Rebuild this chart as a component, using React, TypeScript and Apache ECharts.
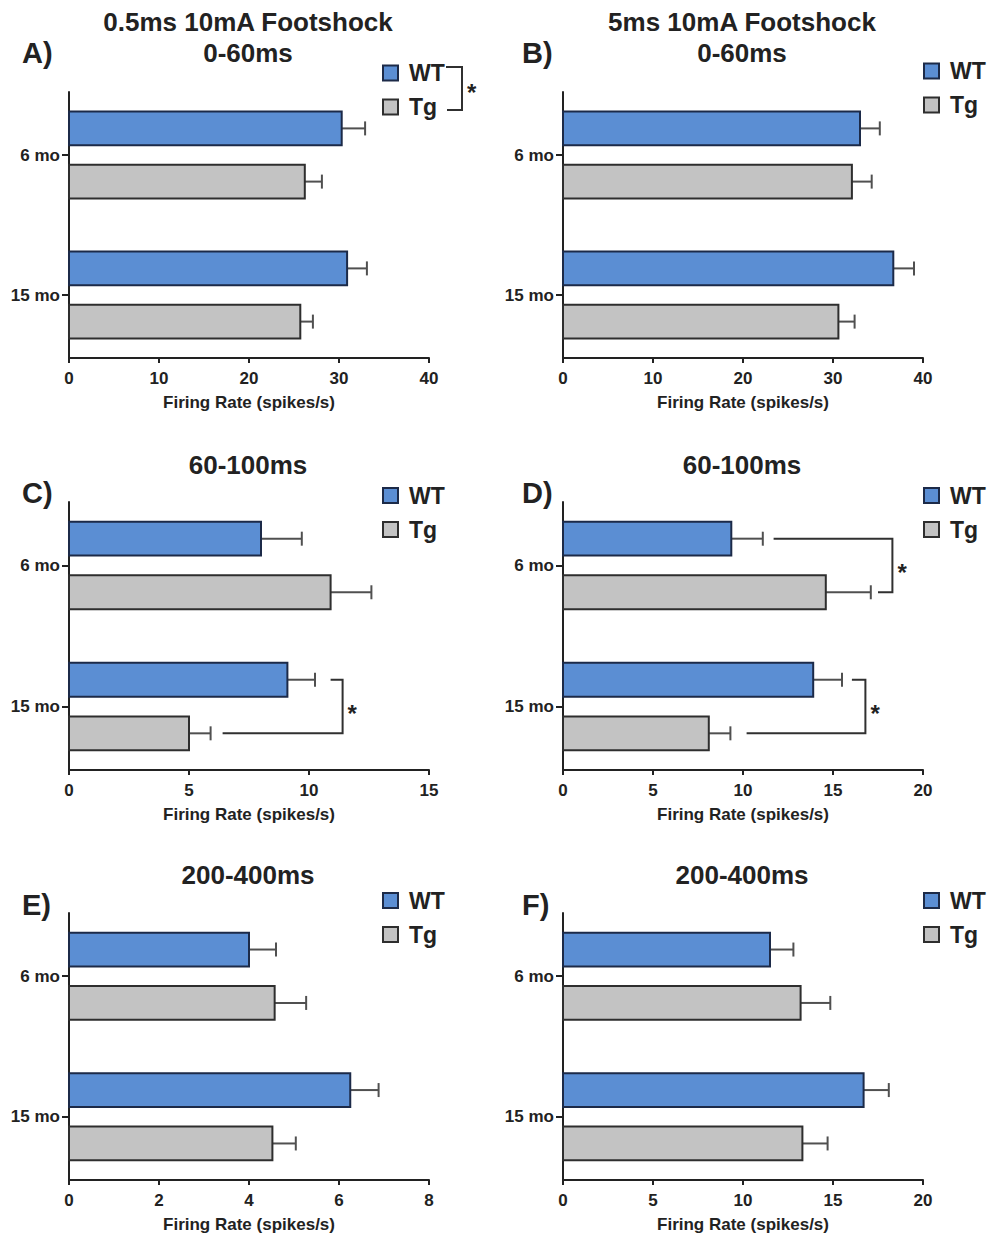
import React, { useEffect, useRef } from 'react';
import * as echarts from 'echarts';

// ---------- data ----------
const categories = ['6 mo', '15 mo'];
const seriesNames = ['WT', 'Tg'];
const panelLetters = ['A)', 'B)', 'C)', 'D)', 'E)', 'F)'];
const panelTitles = [
  ['0.5ms 10mA Footshock', '0-60ms'],
  ['5ms 10mA Footshock', '0-60ms'],
  ['60-100ms'],
  ['60-100ms'],
  ['200-400ms'],
  ['200-400ms'],
];
const axisTitle = 'Firing Rate (spikes/s)';
const xMax = [40, 40, 15, 20, 8, 20];
const xInterval = [10, 10, 5, 5, 2, 5];
// per panel: [6 mo, 15 mo]
const wtMean = [[30.3, 30.9], [33.0, 36.7], [8.0, 9.1], [9.35, 13.9], [4.0, 6.25], [11.5, 16.7]];
const wtSem = [[2.6, 2.2], [2.2, 2.3], [1.7, 1.15], [1.75, 1.6], [0.6, 0.63], [1.3, 1.4]];
const tgMean = [[26.2, 25.7], [32.1, 30.6], [10.9, 5.0], [14.6, 8.1], [4.57, 4.52], [13.2, 13.3]];
const tgSem = [[1.9, 1.4], [2.2, 1.8], [1.7, 0.9], [2.5, 1.2], [0.7, 0.52], [1.65, 1.4]];
// significance brackets (WT vs Tg within a category)
const sigPanel = [2, 3, 3];
const sigCategory = [1, 0, 1];
const sigTopStart = [10.9, 11.7, 16.05];
const sigBottomStart = [6.4, 17.5, 10.2];
const sigRight = [11.4, 18.3, 16.8];
const sigLabel = '*';

// ---------- style / layout ----------
const FONT = 'Liberation Sans, Arial, Helvetica, sans-serif';
const INK = '#222222';
const BLUE = '#5b8ed3';
const BLUE_EDGE = '#1c2a48';
const GRAY = '#c3c3c3';
const GRAY_EDGE = '#2e2e2e';
const ERR_COLOR = '#505050';
const BAR_OFFSET = 0.19;
const BAR_HALF = 0.12;
const CAP = 7;

const colLeft = [69, 563];
const rowTop = [92, 502, 913];
const rowBottom = [358, 770, 1180];
const titleX = [248, 742];
const letterX = [22, 522];
const titleY = [[22, 53], [465], [875]];
const letterY = [53, 493, 905];
const legendLeft = [382, 923];
const legendTop = [[61.5, 59.5], [484, 484], [889, 889]];

function barRender(offset: number, fill: string, stroke: string) {
  return (params: any, api: any) => {
    const cat = api.value(0);
    const mean = api.value(1);
    const sem = api.value(2);
    const yc = cat + offset;
    const a = api.coord([0, yc - BAR_HALF]);
    const b = api.coord([mean, yc + BAR_HALF]);
    const m = api.coord([mean, yc]);
    const e = api.coord([mean + sem, yc]);
    return {
      type: 'group',
      children: [
        {
          type: 'line',
          shape: { x1: m[0], y1: m[1], x2: e[0], y2: e[1] },
          style: { stroke: ERR_COLOR, lineWidth: 2 },
        },
        {
          type: 'line',
          shape: { x1: e[0], y1: e[1] - CAP, x2: e[0], y2: e[1] + CAP },
          style: { stroke: ERR_COLOR, lineWidth: 2 },
        },
        {
          type: 'rect',
          shape: {
            x: Math.min(a[0], b[0]),
            y: Math.min(a[1], b[1]),
            width: Math.abs(b[0] - a[0]),
            height: Math.abs(b[1] - a[1]),
          },
          style: { fill, stroke, lineWidth: 2 },
        },
      ],
    };
  };
}

function sigRender(params: any, api: any) {
  const topStart = api.value(0);
  const botStart = api.value(1);
  const right = api.value(2);
  const cat = api.value(3);
  const yTop = cat - BAR_OFFSET;
  const yBot = cat + BAR_OFFSET;
  const p1 = api.coord([topStart, yTop]);
  const p2 = api.coord([right, yTop]);
  const p3 = api.coord([right, yBot]);
  const p4 = api.coord([botStart, yBot]);
  return {
    type: 'group',
    children: [
      {
        type: 'polyline',
        shape: { points: [p1, p2, p3, p4] },
        style: { stroke: '#303030', lineWidth: 2, fill: 'none' },
      },
      {
        type: 'text',
        x: p2[0] + 5,
        y: (p2[1] + p3[1]) / 2 + 7,
        style: {
          text: sigLabel,
          fill: INK,
          fontSize: 24,
          fontWeight: 'bold',
          fontFamily: FONT,
          align: 'left',
          verticalAlign: 'middle',
        },
      },
    ],
  };
}

export default function App() {
  const ref = useRef<HTMLDivElement>(null);

  useEffect(() => {
    if (!ref.current) return;
    const chart = echarts.init(ref.current, undefined, { renderer: 'svg' });

    const grids: any[] = [];
    const xAxes: any[] = [];
    const yAxes: any[] = [];
    const series: any[] = [];
    const legends: any[] = [];
    const graphics: any[] = [];

    for (let p = 0; p < 6; p++) {
      const col = p % 2;
      const row = Math.floor(p / 2);
      grids.push({
        left: colLeft[col],
        top: rowTop[row],
        width: 360,
        height: rowBottom[row] - rowTop[row],
        containLabel: false,
      });
      xAxes.push({
        type: 'value',
        gridIndex: p,
        min: 0,
        max: xMax[p],
        interval: xInterval[p],
        splitLine: { show: false },
        axisLine: { show: true, onZero: false, lineStyle: { color: INK, width: 2 } },
        axisTick: { show: true, length: 5, lineStyle: { color: INK, width: 2 } },
        axisLabel: { color: INK, fontSize: 17, fontWeight: 'bold', fontFamily: FONT, margin: 12 },
        name: axisTitle,
        nameLocation: 'middle',
        nameGap: 36,
        nameTextStyle: { color: INK, fontSize: 17, fontWeight: 'bold', fontFamily: FONT },
      });
      yAxes.push({
        type: 'value',
        gridIndex: p,
        inverse: true,
        min: -0.45,
        max: 1.45,
        splitLine: { show: false },
        axisLine: { show: true, onZero: false, lineStyle: { color: INK, width: 2 } },
        axisTick: { show: true, length: 7, customValues: [0, 1], lineStyle: { color: INK, width: 2 } },
        axisLabel: {
          customValues: [0, 1],
          formatter: (v: number) => categories[Math.round(v)] ?? '',
          color: INK,
          fontSize: 17,
          fontWeight: 'bold',
          fontFamily: FONT,
          margin: 9,
        },
      });
      series.push({
        type: 'custom',
        name: seriesNames[0],
        xAxisIndex: p,
        yAxisIndex: p,
        clip: false,
        itemStyle: { color: BLUE, borderColor: BLUE_EDGE },
        encode: { x: 1, y: 0 },
        renderItem: barRender(-BAR_OFFSET, BLUE, BLUE_EDGE),
        data: categories.map((_, i) => [i, wtMean[p][i], wtSem[p][i]]),
      });
      series.push({
        type: 'custom',
        name: seriesNames[1],
        xAxisIndex: p,
        yAxisIndex: p,
        clip: false,
        itemStyle: { color: GRAY, borderColor: GRAY_EDGE },
        encode: { x: 1, y: 0 },
        renderItem: barRender(BAR_OFFSET, GRAY, GRAY_EDGE),
        data: categories.map((_, i) => [i, tgMean[p][i], tgSem[p][i]]),
      });
      const sigData: any[] = [];
      sigPanel.forEach((sp, k) => {
        if (sp === p) sigData.push([sigTopStart[k], sigBottomStart[k], sigRight[k], sigCategory[k]]);
      });
      if (sigData.length) {
        series.push({
          type: 'custom',
          name: 'sig',
          xAxisIndex: p,
          yAxisIndex: p,
          clip: false,
          silent: true,
          encode: { x: 0, y: 3 },
          renderItem: sigRender,
          data: sigData,
        });
      }
      legends.push({
        orient: 'vertical',
        left: legendLeft[col],
        top: legendTop[row][col],
        padding: 0,
        itemWidth: 15,
        itemHeight: 15,
        itemGap: 11,
        selectedMode: false,
        textStyle: {
          color: INK,
          fontSize: 23,
          fontWeight: 'bold',
          fontFamily: FONT,
          lineHeight: 22,
          padding: [0, 0, 0, 6],
        },
        data: [
          { name: seriesNames[0], icon: 'rect', itemStyle: { color: BLUE, borderColor: BLUE_EDGE, borderWidth: 2 } },
          { name: seriesNames[1], icon: 'rect', itemStyle: { color: GRAY, borderColor: GRAY_EDGE, borderWidth: 2 } },
        ],
      });
      panelTitles[p].forEach((t, li) => {
        graphics.push({
          type: 'text',
          x: titleX[col],
          y: titleY[row][li],
          style: {
            text: t,
            fill: INK,
            fontSize: 26,
            fontWeight: 'bold',
            fontFamily: FONT,
            align: 'center',
            verticalAlign: 'middle',
          },
        });
      });
      graphics.push({
        type: 'text',
        x: letterX[col],
        y: letterY[row],
        style: {
          text: panelLetters[p],
          fill: INK,
          fontSize: 29,
          fontWeight: 'bold',
          fontFamily: FONT,
          align: 'left',
          verticalAlign: 'middle',
        },
      });
    }

    // legend-level significance bracket in panel A (WT vs Tg overall)
    graphics.push({
      type: 'polyline',
      shape: { points: [[446, 67], [462, 67], [462, 110], [447, 110]] },
      style: { stroke: '#303030', lineWidth: 2, fill: 'none' },
    });
    graphics.push({
      type: 'text',
      x: 467,
      y: 92,
      style: {
        text: '*',
        fill: INK,
        fontSize: 24,
        fontWeight: 'bold',
        fontFamily: FONT,
        align: 'left',
        verticalAlign: 'middle',
      },
    });

    chart.setOption({
      animation: false,
      backgroundColor: '#ffffff',
      grid: grids,
      xAxis: xAxes,
      yAxis: yAxes,
      legend: legends,
      series,
      graphic: graphics,
    });

    return () => {
      chart.dispose();
    };
  }, []);

  return (
    <div
      ref={ref}
      style={{ position: 'fixed', left: 0, top: 0, width: 990, height: 1236, background: '#fff' }}
    />
  );
}
